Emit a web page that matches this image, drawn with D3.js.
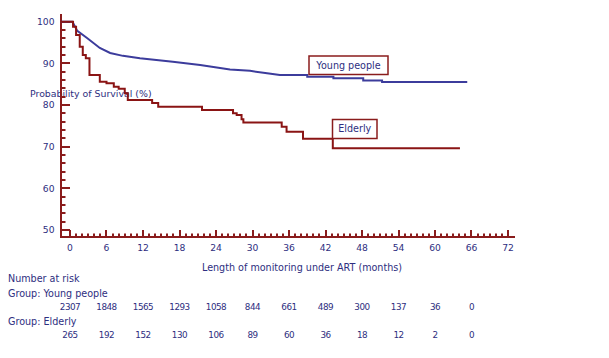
<!DOCTYPE html>
<html><head><meta charset="utf-8">
<script src="https://cdn.jsdelivr.net/npm/d3@7"></script>
<style>
html,body{margin:0;padding:0;background:#fff;}
text{font-family:"DejaVu Sans",Verdana,sans-serif;fill:#2e2e80;}
</style></head>
<body><svg id="c" width="609" height="358"></svg>
<script>
// ---- data ----
const youngMonths = [0,0.4,1.2,2.8,4.9,6.6,8.7,11.5,16.9,21.4,26.3,29.6,32.4,34.5,39,39,43.3,43.3,48.2,48.2,51.3,51.3,65.3];
const youngSurv   = [100,100,97.8,96.1,93.7,92.5,91.8,91.2,90.4,89.6,88.5,88.2,87.6,87.2,87.2,86.8,86.8,86.4,86.4,85.9,85.9,85.5,85.5];
const elderlyMonths = [0,0.5,1.0,1.6,2.1,2.6,3.2,4.9,6.0,7.2,8.0,9.0,9.5,13.5,14.5,21.7,26.8,27.4,28.2,28.5,34.8,35.6,38.3,43.2,64.1];
const elderlySurv   = [100,98.8,96.8,94.0,92.0,91.2,87.2,85.6,85.2,84.4,83.9,82.8,81.2,80.5,79.6,78.8,78.0,77.6,76.6,75.8,74.8,73.6,71.9,69.6,69.6];
const xTicks = [0,6,12,18,24,30,36,42,48,54,60,66,72];
const yTicks = [50,60,70,80,90,100];
const riskMonths = [0,6,12,18,24,30,36,42,48,54,60,66];
const youngRisk = [2307,1848,1565,1293,1058,844,661,489,300,137,36,0];
const elderlyRisk = [265,192,152,130,106,89,60,36,18,12,2,0];

const axisCol = "#8a1c1c", blue = "#3c3c9c", red = "#8a1414";
const svg = d3.select("#c");
const x = d3.scaleLinear().domain([0,72]).range([70,508]);
const y = d3.scaleLinear().domain([50,100]).range([230,21.7]);
const axisX = 61, axisY = 237;

// y-axis label (behind)
svg.append("text").attr("x",30).attr("y",96.5).attr("font-size",9.4).text("Probability of Survival (%)");

// axes
const g = svg.append("g").attr("stroke",axisCol).attr("stroke-width",2).attr("fill","none");
g.append("line").attr("x1",axisX).attr("x2",axisX).attr("y1",14).attr("y2",axisY+1);
g.append("line").attr("x1",axisX-1).attr("x2",515).attr("y1",axisY).attr("y2",axisY);
// y ticks (minor every 2)
d3.range(50,100.1,2).forEach(v=>{
  const major = v%10===0;
  g.append("line").attr("x1",axisX).attr("x2",axisX+(major?9:4.5)).attr("y1",Math.round(y(v))).attr("y2",Math.round(y(v)));
});
// x ticks (minor every month)
d3.range(0,72.1,1).forEach(m=>{
  const major = m%6===0;
  const len = m===0 ? (axisY-Math.round(y(50))) : (major?7:3.5);
  g.append("line").attr("x1",Math.round(x(m))).attr("x2",Math.round(x(m))).attr("y1",axisY).attr("y2",axisY-len);
});
// y tick labels
svg.selectAll(".yl").data(yTicks).enter().append("text")
  .attr("x",54.5).attr("y",d=>y(d)+3.2).attr("text-anchor","end").attr("font-size",9.2).text(d=>d);
// x tick labels
svg.selectAll(".xl").data(xTicks).enter().append("text")
  .attr("x",d=>x(d)).attr("y",251).attr("text-anchor","middle").attr("font-size",9.2).text(d=>d);
svg.append("text").attr("x",302).attr("y",270.8).attr("text-anchor","middle").attr("font-size",9.6)
  .text("Length  of monitoring under ART (months)");

// curves
const startM = x.invert(axisX);
const line = d3.line().x(d=>x(d[0])).y(d=>y(d[1]));
const yData = [[startM,100]].concat(youngMonths.map((m,i)=>[m,youngSurv[i]]));
const eData = [[startM,100]].concat(elderlyMonths.map((m,i)=>[m,elderlySurv[i]]));
svg.append("path").attr("d",line.curve(d3.curveLinear)(yData)).attr("fill","none").attr("stroke",blue).attr("stroke-width",2);
svg.append("path").attr("d",d3.line().x(d=>x(d[0])).y(d=>y(d[1])).curve(d3.curveStepAfter)(eData)).attr("fill","none").attr("stroke",red).attr("stroke-width",2);

// label boxes
function box(x0,y0,w,h,label){
  svg.append("rect").attr("x",x0).attr("y",y0).attr("width",w).attr("height",h)
    .attr("fill","#fff").attr("stroke",axisCol).attr("stroke-width",1.5);
  svg.append("text").attr("x",x0+w/2).attr("y",y0+h/2+3.4).attr("text-anchor","middle").attr("font-size",9.6).text(label);
}
box(309,56,79,18.5,"Young people");
box(332.5,119.5,44.5,19,"Elderly");

// number at risk
svg.append("text").attr("x",8).attr("y",281.5).attr("font-size",9.6).text("Number at risk");
svg.append("text").attr("x",8).attr("y",296.5).attr("font-size",9.6).text("Group: Young people");
svg.append("text").attr("x",8).attr("y",324.5).attr("font-size",9.6).text("Group: Elderly");
svg.selectAll(".ry").data(riskMonths).enter().append("text")
  .attr("x",d=>x(d)).attr("y",309.5).attr("text-anchor","middle").attr("font-size",8.8).attr("letter-spacing",-0.5).text((d,i)=>youngRisk[i]);
svg.selectAll(".re").data(riskMonths).enter().append("text")
  .attr("x",d=>x(d)).attr("y",338).attr("text-anchor","middle").attr("font-size",8.8).attr("letter-spacing",-0.5).text((d,i)=>elderlyRisk[i]);
</script></body></html>
